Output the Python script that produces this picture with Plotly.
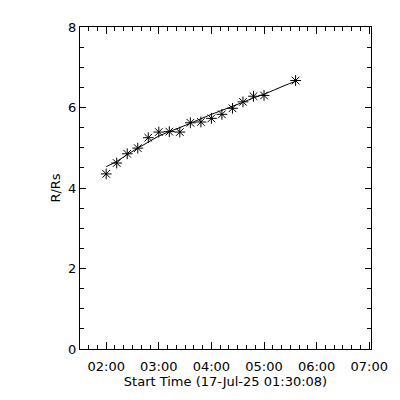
import plotly.graph_objects as go

day = "2025-07-17 "
obs_times = ["02:00", "02:12", "02:24", "02:36", "02:48", "03:00", "03:12", "03:24",
             "03:36", "03:48", "04:00", "04:12", "04:24", "04:36", "04:48", "05:00", "05:36"]
obs_r = [4.35, 4.62, 4.85, 4.99, 5.25, 5.39, 5.40, 5.39, 5.62, 5.64, 5.73, 5.83,
         5.98, 6.14, 6.28, 6.30, 6.67]

fit_times = ["02:00", "02:12", "02:24", "02:36", "02:48", "03:00", "03:12", "03:24",
             "03:36", "03:48", "04:00", "04:12", "04:24", "04:36", "04:48", "05:00",
             "05:12", "05:24", "05:36"]
fit_r = [4.53, 4.66, 4.83, 4.99, 5.14, 5.29, 5.40, 5.50, 5.61, 5.72, 5.83, 5.93,
         6.03, 6.13, 6.24, 6.33, 6.44, 6.55, 6.65]

y_ticks = [0, 2, 4, 6, 8]

font = dict(family="DejaVu Sans", size=13, color="black")

fig = go.Figure()
fig.add_trace(go.Scatter(
    x=[day + t for t in fit_times], y=fit_r, mode="lines",
    line=dict(color="black", width=1, shape="spline"), hoverinfo="skip"))
fig.add_trace(go.Scatter(
    x=[day + t for t in obs_times], y=obs_r, mode="markers",
    marker=dict(symbol="asterisk-open", size=9, color="black",
                line=dict(color="black", width=1))))

fig.update_layout(
    width=392, height=392,
    margin=dict(l=72, r=25, t=17, b=51),
    paper_bgcolor="white", plot_bgcolor="white",
    showlegend=False, font=font,
    xaxis=dict(
        type="date",
        range=[day + "01:30:08", day + "07:02:00"],
        tick0=day + "00:00:00", dtick=3600000, tickformat="%H:%M",
        ticks="inside", ticklen=7, tickwidth=1, tickcolor="black",
        minor=dict(dtick=600000, ticks="inside", ticklen=4, tickwidth=1, tickcolor="black"),
        showline=True, linecolor="black", linewidth=1, mirror="allticks",
        showgrid=False, zeroline=False,
        ticklabelstandoff=5,
        title=dict(text="Start Time (17-Jul-25 01:30:08)", font=font, standoff=4),
        tickfont=font,
    ),
    yaxis=dict(
        range=[0, 8], tickvals=y_ticks,
        ticks="inside", ticklen=6, tickwidth=1, tickcolor="black",
        minor=dict(dtick=0.5, ticks="inside", ticklen=4, tickwidth=1, tickcolor="black"),
        showline=True, linecolor="black", linewidth=1, mirror="allticks",
        showgrid=False, zeroline=False,
        title=dict(text="R/Rs", font=font, standoff=4),
        tickfont=font,
    ),
)

fig.write_html("out.html")
